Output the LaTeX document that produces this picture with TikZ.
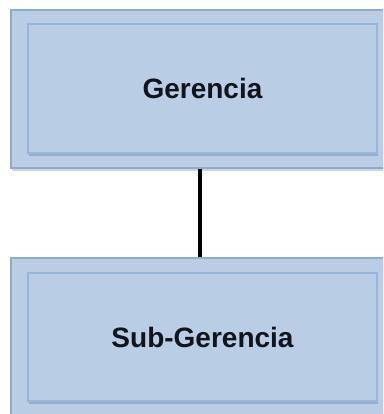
\documentclass[tikz,border=0pt]{standalone}
\usepackage{fontspec}
\setmainfont{Liberation Sans}
\usetikzlibrary{shadows}
\definecolor{boxfill}{HTML}{B9CDE5}
\definecolor{outerline}{HTML}{8FA9D0}
\definecolor{innerline}{HTML}{9AB5DC}
\definecolor{shadowblue}{HTML}{6F88AC}
\definecolor{labeltext}{HTML}{10141C}
\begin{document}
\begin{tikzpicture}[x=1pt,y=-1pt,
  outerbox/.style={rectangle, draw=outerline, line width=1.4pt, fill=boxfill,
    inner sep=0pt, minimum width=386pt, minimum height=158pt,
    drop shadow={shadow xshift=0.5pt, shadow yshift=-2.5pt, opacity=0.35, fill=shadowblue}},
  innerbox/.style={rectangle, draw=innerline, line width=1.4pt, fill=boxfill,
    inner sep=0pt, minimum width=349pt, minimum height=129pt,
    font=\fontsize{28}{32}\selectfont\bfseries, text=labeltext,
    drop shadow={shadow xshift=1pt, shadow yshift=-3pt, opacity=0.45, fill=shadowblue}},
  link/.style={line width=3.6pt, draw=black}]
  \fill[white] (0,0) rectangle (383,414);
  \clip (0,0) rectangle (383,414);
  % upper level
  \node[outerbox] (gerOuter) at (204,89) {};
  \node[innerbox] (ger) at (202.5,88.5) {Gerencia};
  % lower level
  \node[outerbox, minimum height=170pt] (subOuter) at (204,343) {};
  \node[innerbox, minimum height=128pt] (sub) at (202.5,337) {Sub-Gerencia};
  % reporting line between the two levels
  \coordinate (lineTop) at ([xshift=-2.5pt]gerOuter.south -| ger.south);
  \draw[link] (lineTop) -- (lineTop |- subOuter.north);
\end{tikzpicture}
\end{document}
